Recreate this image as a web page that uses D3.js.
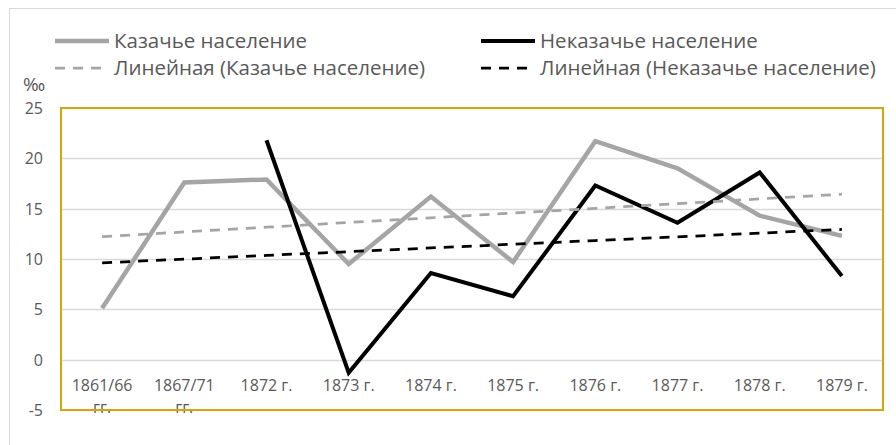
<!DOCTYPE html>
<html>
<head>
<meta charset="utf-8">
<script src="https://cdn.jsdelivr.net/npm/d3@7"></script>
<style>
  body { margin: 0; background: #fff; }
  text { font-family: "Open Sans", sans-serif; fill: #595959; }
</style>
</head>
<body>
<div id="chart"></div>
<script>
// Data
////////////////////////////////////////////////////////////////////
const categories = ["1861/66 гг.", "1867/71 гг.", "1872 г.", "1873 г.", "1874 г.",
  "1875 г.", "1876 г.", "1877 г.", "1878 г.", "1879 г."];
const cossack = [5.1, 17.6, 17.9, 9.5, 16.2, 9.7, 21.7, 19.0, 14.3, 12.3];
const nonCossack = [null, null, 21.8, -1.3, 8.6, 6.3, 17.3, 13.6, 18.6, 8.3];
const yTicks = [-5, 0, 5, 10, 15, 20, 25];
const seriesNames = ["Казачье население", "Неказачье население"];

// Linear trend (Excel style: x = 1..n, blanks skipped)
function trend(values) {
  const pts = values.map((v, i) => [i + 1, v]).filter((p) => p[1] != null);
  const mx = d3.mean(pts, (p) => p[0]);
  const my = d3.mean(pts, (p) => p[1]);
  const slope = d3.sum(pts, (p) => (p[0] - mx) * (p[1] - my)) /
    d3.sum(pts, (p) => (p[0] - mx) ** 2);
  return values.map((v, i) => my + slope * (i + 1 - mx));
}

// Dimensions
////////////////////////////////////////////////////////////////////
const dimensions = {
  width: 896,
  height: 445,
  margin: { top: 108, bottom: 35, left: 61, right: 13 },
};
dimensions.ctrWidth = dimensions.width - dimensions.margin.left - dimensions.margin.right;
dimensions.ctrHeight = dimensions.height - dimensions.margin.top - dimensions.margin.bottom;

const svg = d3.select("#chart").append("svg")
  .attr("width", dimensions.width)
  .attr("height", dimensions.height);

// outer chart frame
svg.append("rect")
  .attr("x", 9.5).attr("y", 8.5)
  .attr("width", 900).attr("height", 460)
  .attr("fill", "none").attr("stroke", "#d9d9d9");

const ctr = svg.append("g")
  .attr("transform", `translate(${dimensions.margin.left}, ${dimensions.margin.top})`);

// Scales
////////////////////////////////////////////////////////////////////
const xScale = d3.scaleBand().domain(categories).range([0, dimensions.ctrWidth]);
const yScale = d3.scaleLinear().domain([-5, 25]).range([dimensions.ctrHeight, 0]);
const xPos = (i) => xScale(categories[i]) + xScale.bandwidth() / 2;

// Grid
ctr.append("g")
  .selectAll("line")
  .data(yTicks)
  .join("line")
  .attr("x1", 0).attr("x2", dimensions.ctrWidth)
  .attr("y1", (d) => Math.round(yScale(d)) + 0.5)
  .attr("y2", (d) => Math.round(yScale(d)) + 0.5)
  .attr("stroke", "#d9d9d9")
  .attr("stroke-width", 1.5);

// Y axis labels (plain hyphen for negatives, as in the original)
const yAxis = d3.axisLeft(yScale)
  .tickValues(yTicks)
  .tickFormat((d) => String(d))
  .tickSize(0)
  .tickPadding(18);
const yAxisGroup = ctr.append("g").call(yAxis);
yAxisGroup.select(".domain").remove();
yAxisGroup.selectAll("text")
  .attr("font-family", null)
  .attr("fill", null)
  .style("font-size", "16px")
  .attr("dy", "0.35em");

// X axis labels
const xAxis = d3.axisBottom(xScale).tickSize(0).tickPadding(0);
const xAxisGroup = ctr.append("g")
  .attr("transform", `translate(0,${yScale(0)})`)
  .call(xAxis);
xAxisGroup.select(".domain").remove();
xAxisGroup.selectAll("text")
  .attr("fill", null)
  .style("font-size", "16px")
  .each(function (d) {
    const t = d3.select(this);
    const parts = d.split(" ");
    t.text(null).attr("dy", null);
    if (parts[1] === "гг.") {
      t.append("tspan").attr("x", 0).attr("y", 31).text(parts[0]);
      t.append("tspan").attr("x", 0).attr("y", 53).text(parts[1]);
    } else {
      t.append("tspan").attr("x", 0).attr("y", 31).text(d);
    }
  });

// Lines
////////////////////////////////////////////////////////////////////
const line = d3.line()
  .defined((d) => d != null)
  .x((d, i) => xPos(i))
  .y((d) => yScale(d));

ctr.append("path")
  .datum(cossack)
  .attr("d", line)
  .attr("fill", "none")
  .attr("stroke", "#a5a5a5")
  .attr("stroke-width", 4.5)
  .attr("stroke-linejoin", "miter");

ctr.append("path")
  .datum(nonCossack)
  .attr("d", line)
  .attr("fill", "none")
  .attr("stroke", "#000")
  .attr("stroke-width", 4)
  .attr("stroke-linejoin", "miter");

ctr.append("path")
  .datum(trend(cossack))
  .attr("d", line)
  .attr("fill", "none")
  .attr("stroke", "#a5a5a5")
  .attr("stroke-width", 2.75)
  .attr("stroke-dasharray", "10,8");

ctr.append("path")
  .datum(trend(nonCossack))
  .attr("d", line)
  .attr("fill", "none")
  .attr("stroke", "#000")
  .attr("stroke-width", 2.75)
  .attr("stroke-dasharray", "10,8");

// plot area frame
ctr.append("rect")
  .attr("x", 0).attr("y", 0)
  .attr("width", dimensions.ctrWidth)
  .attr("height", dimensions.ctrHeight)
  .attr("fill", "none")
  .attr("stroke", "#d4a50f")
  .attr("stroke-width", 2);

// Unit label
svg.append("text")
  .attr("x", 34).attr("y", 91)
  .attr("text-anchor", "middle")
  .style("font-size", "19px")
  .text("‰");

// Legend
////////////////////////////////////////////////////////////////////
const legendItems = [
  { name: seriesNames[0], color: "#a5a5a5", dash: null, width: 4.5, x: 55, y: 41 },
  { name: seriesNames[1], color: "#000", dash: null, width: 4, x: 481, y: 41 },
  { name: "Линейная (" + seriesNames[0] + ")", color: "#a5a5a5", dash: "10,8", width: 2.75, x: 55, y: 68 },
  { name: "Линейная (" + seriesNames[1] + ")", color: "#000", dash: "10,8", width: 2.75, x: 481, y: 68 },
];

const legend = svg.append("g")
  .selectAll("g")
  .data(legendItems)
  .join("g")
  .attr("transform", (d) => `translate(${d.x},${d.y})`);

legend.append("line")
  .attr("x1", 0).attr("x2", 54)
  .attr("stroke", (d) => d.color)
  .attr("stroke-width", (d) => d.width)
  .attr("stroke-dasharray", (d) => d.dash);

legend.append("text")
  .attr("x", 59)
  .attr("dy", "0.35em")
  .style("font-size", "20.5px")
  .text((d) => d.name);
</script>
</body>
</html>
